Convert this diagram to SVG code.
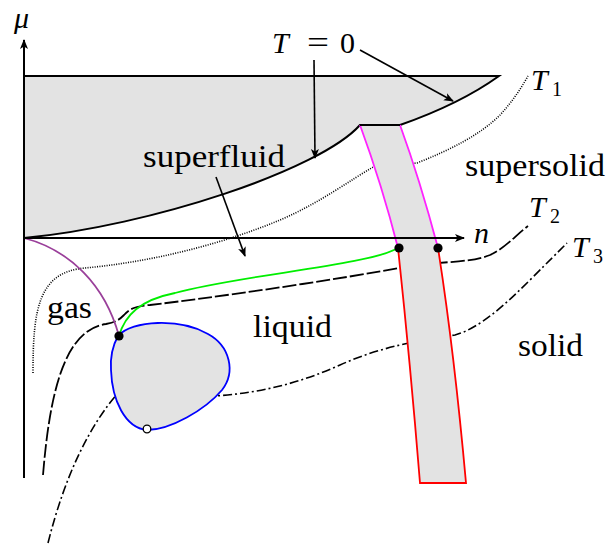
<svg xmlns="http://www.w3.org/2000/svg" width="616" height="544" viewBox="0 0 616 544">
<defs>
<marker id="ah" viewBox="0 0 10 10" refX="9" refY="5" markerWidth="10" markerHeight="10" markerUnits="userSpaceOnUse" orient="auto">
<path d="M0,1 L10,5 L0,9 L2.5,5 Z" fill="#000"/>
</marker>
</defs>
<rect width="616" height="544" fill="#fff"/>

<g id="isotherms" fill="none" stroke="#000">
<path stroke-width="1.6" stroke-dasharray="1 1.4" d="M33,373 C33,310 38,272 85,268 C150,262 220,245 280,220 C320,203 350,180 375,166 L417,163 C450,150 480,135 500,115 C512,102 520,90 528,76"/>
<path stroke-width="1.8" stroke-dasharray="14 3" d="M43,475 C50,390 65,330 106,324 C116,322 119,320 124,315 C130,308 137,306 150,305 C210,298 330,281 410,266 C445,261 470,263 490,255 C505,248 515,236 528,226"/>
<path stroke-width="1.6" stroke-dasharray="9 3 2 3" d="M48,543 C65,475 90,425 118,393 L215,396 C260,393 300,383 340,365 C380,347 420,340 455,335 C480,328 505,305 533,277 C548,262 558,252 567,243"/>
</g>

<g id="boundaries" fill="none" stroke-width="1.8">
<path d="M24,238 C70,250 105,285 119,336" stroke="#9a3f9a"/>
<path d="M398,248 C370,265 240,275 175,293 C140,300 125,315 119,336" stroke="#00ee00"/>
</g>

<g id="superfluid-T0">
<path fill="#e3e3e3" d="M24,76 L499,76 Q460,104 400,125 L360,125 C320,170 150,226 24,238 Z"/>
<path fill="none" stroke="#000" stroke-width="2" d="M24,76 L499,76 Q460,104 400,125 L360,125 C320,170 150,226 24,238"/>
</g>

<g id="band" fill="none" stroke-width="1.8">
<path fill="#e3e3e3" stroke="none" d="M360,125 L400,125 Q420,180 438,248 Q454,350 466,483 L420,483 Q410,360 398,248 Q382,185 360,125 Z"/>
<path d="M360,125 Q382,185 398,248 M400,125 Q420,180 438,248" stroke="#ff22ff"/>
<path d="M398,248 Q410,360 420,483 L466,483 Q454,350 438,248" stroke="#ff0000"/>
<path d="M360,125 L400,125" stroke="#000" stroke-width="2"/>
</g>

<g id="loop">
<path d="M118,336 C132,320 180,318 208,334 C230,346 236,372 222,390 C205,410 170,430 147,430 C125,428 112,400 111,370 C110,355 113,345 118,336 Z" fill="#e3e3e3" stroke="#0000ff" stroke-width="1.8"/>
</g>

<g id="axes">
<path fill="none" stroke="#000" stroke-width="2" d="M24,478 L24,40" marker-end="url(#ah)"/>
<path fill="none" stroke="#000" stroke-width="2" d="M24,238 L464,238" marker-end="url(#ah)"/>
<text x="14" y="28" font-family="Liberation Serif" font-style="italic" font-size="30">&#956;</text>
<text x="474" y="243" font-family="Liberation Serif" font-style="italic" font-size="30">n</text>
</g>

<g id="points">
<circle cx="119" cy="336" r="4.6" fill="#000"/>
<circle cx="399" cy="248" r="4.6" fill="#000"/>
<circle cx="438" cy="248" r="4.6" fill="#000"/>
<circle cx="147" cy="429" r="3.8" fill="#fff" stroke="#000" stroke-width="1.3"/>
</g>

<g id="connectors" fill="none" stroke="#000" stroke-width="1.6" marker-end="url(#ah)">
<path d="M314,60 L315,158"/>
<path d="M360,50 L453,101"/>
<path d="M216,177 L245,256"/>
</g>

<g id="labels">
<text x="272" y="53" font-family="Liberation Serif" font-style="italic" font-size="30">T</text>
<text x="307" y="53" font-family="Liberation Serif" font-size="32" textLength="22" lengthAdjust="spacingAndGlyphs">=</text>
<text x="340" y="53" font-family="Liberation Serif" font-size="30">0</text>
<text x="531" y="90" font-family="Liberation Serif" font-style="italic" font-size="30">T</text>
<text x="552" y="96" font-family="Liberation Serif" font-size="20">1</text>
<text x="529" y="217" font-family="Liberation Serif" font-style="italic" font-size="30">T</text>
<text x="550" y="223" font-family="Liberation Serif" font-size="20">2</text>
<text x="572" y="257" font-family="Liberation Serif" font-style="italic" font-size="30">T</text>
<text x="593" y="263" font-family="Liberation Serif" font-size="20">3</text>
<text x="143" y="167" font-family="Liberation Serif" font-size="31" textLength="142" lengthAdjust="spacingAndGlyphs">superfluid</text>
<text x="465" y="176" font-family="Liberation Serif" font-size="31" textLength="140" lengthAdjust="spacingAndGlyphs">supersolid</text>
<text x="47" y="318" font-family="Liberation Serif" font-size="31" textLength="45" lengthAdjust="spacingAndGlyphs">gas</text>
<text x="253" y="337" font-family="Liberation Serif" font-size="31" textLength="79" lengthAdjust="spacingAndGlyphs">liquid</text>
<text x="518" y="356" font-family="Liberation Serif" font-size="31" textLength="65" lengthAdjust="spacingAndGlyphs">solid</text>
</g>
</svg>
